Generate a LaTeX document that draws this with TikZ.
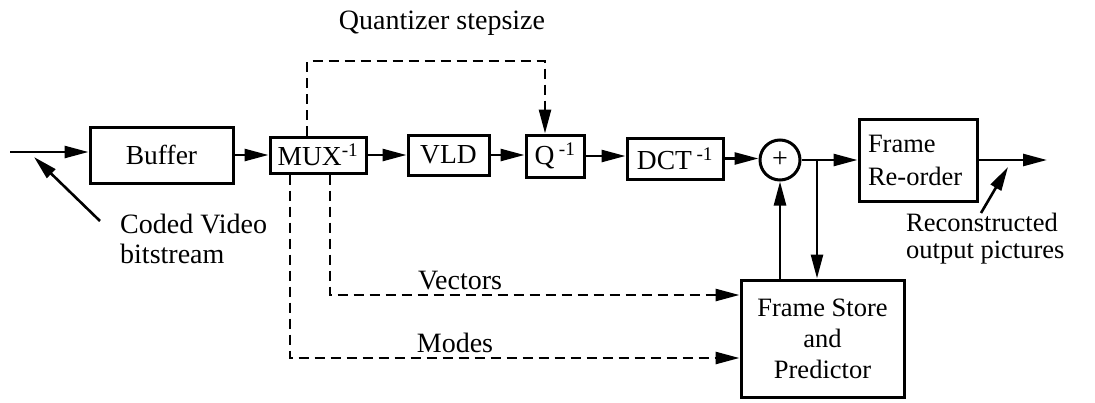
\documentclass[tikz,border=0pt]{standalone}
\usepackage{fontspec}
\setmainfont{Liberation Serif}
\usetikzlibrary{arrows.meta}
\begin{document}
\begin{tikzpicture}[x=1pt,y=-1pt,
  blk/.style={draw,line width=3pt,inner sep=0pt,font=\fontsize{27.5}{31}\selectfont},
  conn/.style={line width=2.6pt,-{Triangle[length=24pt,width=12pt]}},
  dconn/.style={conn,dash pattern=on 10pt off 6pt},
  lbl/.style={font=\fontsize{28}{30}\selectfont,inner sep=0pt}]
\useasboundingbox (0,0) rectangle (1095,402);
% blocks
\node[blk,minimum width=143pt,minimum height=56pt] (buf) at (161.5,155) {Buffer};
\node[blk,minimum width=96pt,minimum height=36pt] (mux) at (318,155) {MUX\textsuperscript{-1}};
\node[blk,minimum width=81pt,minimum height=40pt] (vld) at (448.5,155) {VLD};
\node[blk,minimum width=58pt,minimum height=42pt] (q) at (555,156) {Q\,\textsuperscript{-1}};
\node[blk,minimum width=96pt,minimum height=41pt] (dct) at (675,158.5) {DCT\,\textsuperscript{-1}};
\node[blk,circle,minimum size=40pt] (sum) at (780,160) {\fontsize{28}{28}\selectfont +};
\node[blk,minimum width=118pt,minimum height=82pt,align=left,text width=100pt,font=\fontsize{26.5}{33}\selectfont] (fr) at (918,160) {Frame\\Re-order};
\node[blk,minimum width=163pt,minimum height=117pt,align=center,font=\fontsize{26.5}{31}\selectfont] (fs) at (822.5,338.5) {Frame Store\\and\\Predictor};
% labels
\node[lbl] (qs) at (442,23) {Quantizer stepsize};
\node[lbl,anchor=base] (vl) at (460,289) {Vectors};
\node[lbl,anchor=base] (ml) at (455,352) {Modes};
\node[lbl,align=left,anchor=west,font=\fontsize{28}{30}\selectfont] (cv) at (120,239) {Coded Video\\bitstream};
\node[lbl,align=left,anchor=west,font=\fontsize{26.5}{27}\selectfont] (rc) at (906,239) {Reconstructed\\output pictures};
% coordinates
\coordinate (in) at (10,152);
\coordinate (br) at (817,160);
\coordinate (out) at (1047,160);
\coordinate (qa) at (307,61);
\coordinate (qb) at (545,61);
\coordinate (va) at (330,295);
\coordinate (ma) at (290,358);
\coordinate (cvt) at (100,221);
\coordinate (cvh) at (34,157);
\coordinate (rct) at (981,213);
\coordinate (rch) at (1008,167);
% main path
\draw[conn] (in) -- (in -| buf.west);
\draw[conn] (buf.east) -- (mux.west);
\draw[conn] (mux.east) -- (vld.west);
\draw[conn] (vld.east) -- (vld.east -| q.west);
\draw[conn] (q.east) -- (q.east -| dct.west);
\draw[conn] (dct.east) -- (dct.east -| sum.west);
\draw[conn] (sum.east) -- (fr.west);
\draw[conn] (fr.east) -- (out);
\draw[conn] (br) -- (br |- fs.north);
\draw[conn] (fs.north -| sum) -- (sum.south);
% dashed control paths
\draw[dconn] (mux.north -| qa) -- (qa) -- (qb) -- (qb |- q.north);
\draw[dconn] (mux.south -| va) -- (va) -- (va -| fs.west);
\draw[dconn] (mux.south -| ma) -- (ma) -- (ma -| fs.west);
% pointers
\draw[conn] (cvt) -- (cvh);
\draw[conn] (rct) -- (rch);
\end{tikzpicture}
\end{document}
